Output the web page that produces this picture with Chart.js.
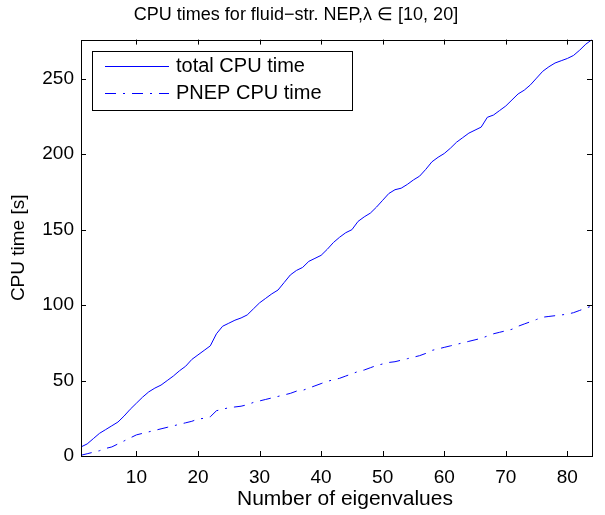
<!DOCTYPE html>
<html>
<head>
<meta charset="utf-8">
<script src="https://cdn.jsdelivr.net/npm/chart.js@4.4.1/dist/chart.umd.min.js"></script>
<style>
  html, body { margin:0; padding:0; background:#fff; }
  #wrap { width:605px; height:515px; }
</style>
</head>
<body>
<div id="wrap"><canvas id="chart"></canvas></div>
<script>
// number of eigenvalues computed
const eigCount = [1,2,3,4,5,6,7,8,9,10,11,12,13,14,15,16,17,18,19,20,21,22,23,24,25,26,27,28,29,30,
  31,32,33,34,35,36,37,38,39,40,41,42,43,44,45,46,47,48,49,50,51,52,53,54,55,56,57,58,59,60,
  61,62,63,64,65,66,67,68,69,70,71,72,73,74,75,76,77,78,79,80,81,82,83,84];

// total CPU time [s]
const totalCpu = [6,8,11.5,15,17.5,20,22.5,26.5,31,35,39,42.5,45,47,50,53,56.5,59.5,64,67,
  70,73,81,86,88,90,91.5,93.5,97.5,101.5,104.5,107.5,110,115,120,123,125,129,131,133,
  137,141.5,145,148,150,155.5,158.5,161,165,169.5,174,176.5,177.5,180,183,185.5,190,195,198,200.5,
  204,208,211,214,216,218,224.5,226,229,232,236,240,242.5,246,250.5,255,258,260.5,262,263.5,
  265.5,269,273,276];

// PNEP CPU time [s]
const pnepCpu = [0.5,1.5,2.5,3.5,5,6,8,10,12,14,15,16,17,18,19,20,21,22,23,24.5,
  25,26,30,31,32,32.5,33,34,35.5,36.5,37.5,38.5,39.5,40.5,41.5,43,43.5,45,46.5,48,
  49.5,50.5,51.5,53,54.5,56,57,58.5,60,61,62,62.5,63.5,64.5,65.5,66.5,68,70,71,72,
  73,74,75,76,77,78,79.5,81,82,83,84,86,87.5,89,90.5,92,92.5,93,93.5,94,
  95,96.5,98,99.5];

const xTicks = [10,20,30,40,50,60,70,80];
const yTicks = [0,50,100,150,200,250];
const seriesNames = ['total CPU time', 'PNEP CPU time'];
const xTitle = 'Number of eigenvalues';

const FONT = 'Liberation Sans, Arial, Helvetica, sans-serif';
const blue = 'rgb(0,0,255)';
const dashDot = [11,7,2,7];

// MATLAB-style box with inward ticks on all four sides
const boxTicks = {
  id: 'boxTicks',
  afterDatasetsDraw(chart) {
    const {ctx, chartArea:a, scales:{x, y}} = chart;
    ctx.save();
    ctx.strokeStyle = '#000';
    ctx.lineWidth = 1;
    ctx.beginPath();
    xTicks.forEach(v => {
      const px = Math.round(x.getPixelForValue(v)) + 0.5;
      ctx.moveTo(px, a.bottom); ctx.lineTo(px, a.bottom - 5);
      ctx.moveTo(px, a.top); ctx.lineTo(px, a.top + 5);
    });
    yTicks.forEach(v => {
      const py = Math.round(y.getPixelForValue(v)) + 0.5;
      ctx.moveTo(a.left, py); ctx.lineTo(a.left + 5, py);
      ctx.moveTo(a.right, py); ctx.lineTo(a.right - 5, py);
    });
    ctx.stroke();
    ctx.strokeRect(Math.round(a.left) + 0.5, Math.round(a.top) + 0.5,
      Math.round(a.right - a.left), Math.round(a.bottom - a.top));
    ctx.restore();
  }
};

// legend box in the upper left of the axes, plus the x axis label
const boxLegend = {
  id: 'boxLegend',
  afterDraw(chart) {
    const ctx = chart.ctx;
    ctx.save();
    ctx.fillStyle = '#fff';
    ctx.fillRect(92, 51, 260, 59);
    ctx.strokeStyle = '#000';
    ctx.lineWidth = 1;
    ctx.strokeRect(92.5, 51.5, 260, 59);
    const rows = [66, 93];
    ctx.font = '20px ' + FONT;
    ctx.textBaseline = 'middle';
    chart.data.datasets.forEach((ds, i) => {
      ctx.strokeStyle = ds.borderColor;
      ctx.setLineDash(ds.borderDash || []);
      ctx.beginPath();
      ctx.moveTo(105, rows[i] + 0.5);
      ctx.lineTo(169, rows[i] + 0.5);
      ctx.stroke();
      ctx.setLineDash([]);
      ctx.fillStyle = '#000';
      ctx.fillText(ds.label, 176, rows[i]);
    });
    // x axis label (sits a bit right of the axes centre in the original)
    ctx.font = '21px ' + FONT;
    ctx.textAlign = 'center';
    ctx.fillText(xTitle, 345, 499);
    ctx.restore();
  }
};

new Chart(document.getElementById('chart'), {
  type: 'line',
  data: {
    datasets: [
      { label: seriesNames[0], data: eigCount.map((n, i) => ({x: n, y: totalCpu[i]})),
        borderColor: blue, borderWidth: 1, pointRadius: 0, fill: false },
      { label: seriesNames[1], data: eigCount.map((n, i) => ({x: n, y: pnepCpu[i]})),
        borderColor: blue, borderWidth: 1, borderDash: dashDot, pointRadius: 0, fill: false }
    ]
  },
  options: {
    responsive: true, maintainAspectRatio: false, animation: false,
    layout: { padding: { top: 0, right: 13, bottom: 0, left: 0 } },
    elements: { line: { tension: 0 } },
    plugins: {
      legend: { display: false },
      tooltip: { enabled: false },
      title: {
        display: true,
        text: 'CPU times for fluid\u2212str. NEP,\u03bb \u2208 [10, 20]',
        color: '#000',
        font: { family: FONT, size: 18, weight: 'normal' },
        padding: { top: 4, bottom: 14 }
      }
    },
    scales: {
      x: {
        type: 'linear', min: 1, max: 84,
        grid: { display: false, drawTicks: false },
        border: { display: false },
        afterBuildTicks: s => { s.ticks = xTicks.map(v => ({value: v})); },
        afterFit: s => { s.height = 59; },
        ticks: { color: '#000', padding: 10, maxRotation: 0, font: { family: FONT, size: 19 } },
        title: { display: false }
      },
      y: {
        min: 0, max: 276,
        grid: { display: false, drawTicks: false },
        border: { display: false },
        afterBuildTicks: s => { s.ticks = yTicks.map(v => ({value: v})); },
        afterFit: s => { s.width = 81; },
        ticks: { color: '#000', padding: 7, font: { family: FONT, size: 19 } },
        title: { display: true, text: 'CPU time [s]', color: '#000',
          font: { family: FONT, size: 19 }, padding: { top: 7, bottom: 0 } }
      }
    }
  },
  plugins: [boxTicks, boxLegend]
});
</script>
</body>
</html>
